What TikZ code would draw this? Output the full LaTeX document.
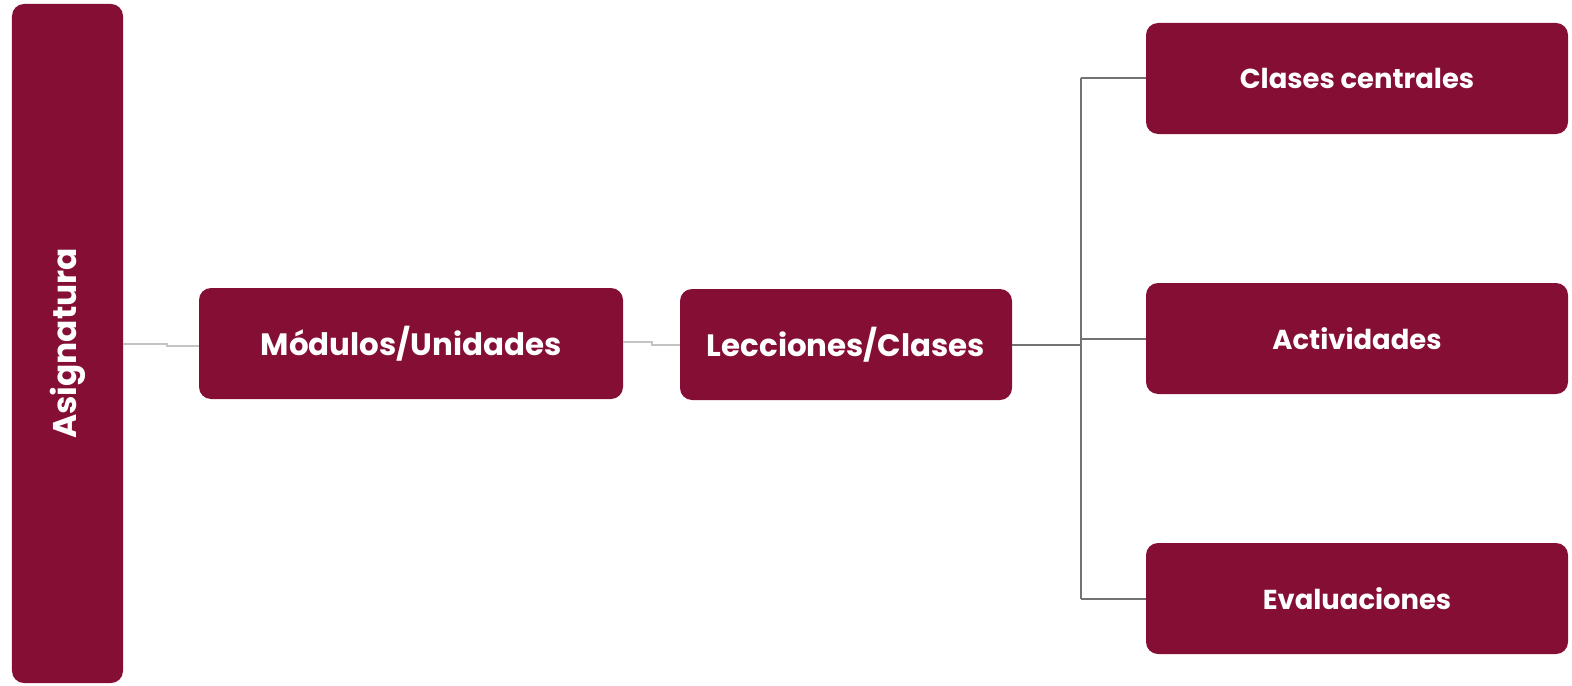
\documentclass[tikz,border=0pt]{standalone}
\usepackage{fontspec}
\setmainfont{Poppins}
\definecolor{wine}{HTML}{850E35}
\definecolor{lightline}{HTML}{C4C4C4}
\definecolor{darkline}{HTML}{727272}
\begin{document}
\begin{tikzpicture}[x=1bp,y=-1bp,
  box/.style={fill=wine, rounded corners=12bp, text=white, font=\fontsize{31}{34}\selectfont\bfseries, inner sep=0pt},
  leaf/.style={box, minimum width=422bp, minimum height=111bp, font=\fontsize{27.5}{32}\selectfont\bfseries},
  lconn/.style={draw=lightline, line width=2bp},
  dconn/.style={draw=darkline, line width=2bp}]
\useasboundingbox (0,0) rectangle (1572,686);
\node[box, rotate=90, minimum width=679bp, minimum height=111bp, font=\fontsize{33}{38}\selectfont\bfseries] (asig) at (67.5,343.5) {Asignatura};
\node[box, minimum width=424bp, minimum height=111bp] (mod) at (411,343.5) {Módulos/Unidades};
\node[box, minimum width=332bp, minimum height=111bp] (lec) at (846,344.5) {Lecciones/Clases};
\node[leaf] (cc) at (1357,78.5) {Clases centrales};
\node[leaf] (act) at (1357,338.5) {Actividades};
\node[leaf] (eva) at (1357,598.5) {Evaluaciones};
\coordinate (j1) at (167,344);
\coordinate (j2) at (652,342);
\coordinate (br) at (1081,345);
\draw[lconn] (asig.south |- j1) -- (j1) -- ++(0,2) -- (mod.west |- 0,346);
\draw[lconn] (mod.east |- j2) -- (j2) -- ++(0,3) -- (lec.west |- 0,345);
\draw[dconn] (lec.east |- br) -- (br);
\draw[dconn] (br |- cc.west) -- (br |- eva.west);
\draw[dconn] (br |- cc.west) -- (cc.west);
\draw[dconn] (br |- act.west) -- (act.west);
\draw[dconn] (br |- eva.west) -- (eva.west);
\end{tikzpicture}
\end{document}
